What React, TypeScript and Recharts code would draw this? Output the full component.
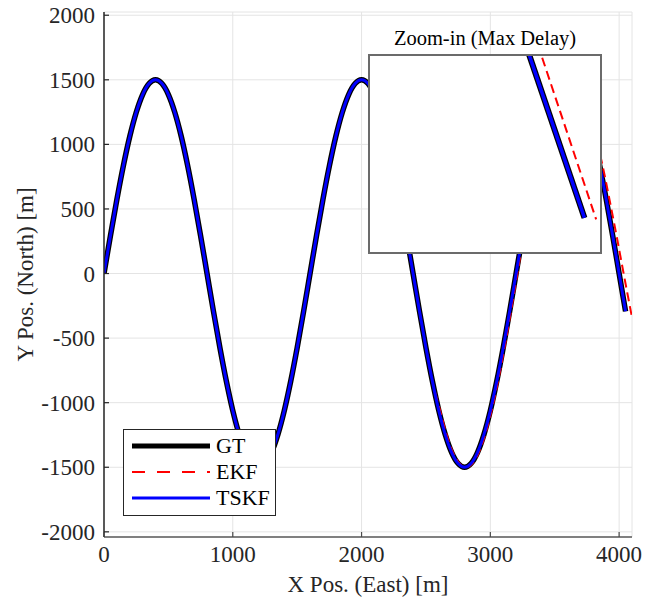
import { LineChart, Line, XAxis, YAxis, CartesianGrid } from 'recharts';

const FONT = "'Liberation Serif', 'Times New Roman', Times, serif";

// trajectory, east/north in metres
const gtX = [
  0, 50, 100, 150, 200, 250, 300, 350, 400, 450, 500, 550, 600, 650, 700, 750,
  800, 850, 900, 950, 1000, 1050, 1100, 1150, 1200, 1250, 1300, 1350, 1400, 1450, 1500, 1550,
  1600, 1650, 1700, 1750, 1800, 1850, 1900, 1950, 2000, 2050, 2100, 2150, 2200, 2250, 2300, 2350,
  2400, 2450, 2500, 2550, 2600, 2650, 2700, 2750, 2800, 2850, 2900, 2950, 3000, 3050, 3100, 3150,
  3200, 3250, 3300, 3350, 3400, 3450, 3500, 3550, 3600, 3650, 3700, 3750, 3800, 3850, 3900, 3950,
  4000, 4050,
];
const gtY = [
  0, 293, 574, 833, 1061, 1247, 1386, 1471, 1500, 1471, 1386, 1247, 1061, 833, 574, 293,
  0, -293, -574, -833, -1061, -1247, -1386, -1471, -1500, -1471, -1386, -1247, -1061, -833, -574, -293,
  0, 293, 574, 833, 1061, 1247, 1386, 1471, 1500, 1471, 1386, 1247, 1061, 833, 574, 293,
  0, -293, -574, -833, -1061, -1247, -1386, -1471, -1500, -1471, -1386, -1247, -1061, -833, -574, -293,
  0, 293, 574, 833, 1061, 1247, 1386, 1471, 1500, 1471, 1386, 1247, 1061, 833, 574, 293,
  0, -293,
];
const tskfY = [
  0, 293, 574, 833, 1061, 1247, 1386, 1471, 1500, 1471, 1386, 1247, 1061, 833, 574, 293,
  0, -293, -574, -833, -1061, -1247, -1386, -1471, -1500, -1471, -1386, -1247, -1061, -833, -574, -293,
  0, 293, 574, 833, 1061, 1247, 1386, 1471, 1500, 1471, 1386, 1247, 1061, 833, 574, 293,
  0, -293, -574, -833, -1061, -1247, -1386, -1471, -1500, -1471, -1386, -1247, -1061, -833, -574, -293,
  0, 293, 574, 833, 1061, 1247, 1386, 1471, 1500, 1471, 1386, 1247, 1061, 833, 574, 293,
  0, -293,
];
const ekfX = [
  0, 50, 100, 150, 200, 250, 300, 350, 400, 450, 500, 550, 600, 650, 700, 750,
  800, 850, 900, 950, 1000, 1050, 1100, 1150, 1200, 1250, 1300, 1350, 1400, 1450, 1500, 1550,
  1600, 1650, 1700, 1750, 1800, 1850, 1900, 1950, 2000, 2050, 2100, 2150, 2200, 2250, 2300, 2350,
  2400, 2450, 2500, 2550, 2610, 2660, 2710, 2760, 2810, 2860, 2910, 2960, 3010, 3060, 3110, 3160,
  3210, 3260, 3310, 3360, 3410, 3460, 3510, 3560, 3610, 3660, 3712, 3765, 3818, 3872, 3925, 3980,
  4035, 4100,
];
const ekfY = [
  0, 293, 574, 833, 1061, 1247, 1386, 1471, 1500, 1471, 1386, 1247, 1061, 833, 574, 293,
  0, -293, -574, -833, -1061, -1247, -1386, -1471, -1500, -1471, -1386, -1247, -1061, -833, -574, -293,
  0, 293, 574, 833, 1061, 1247, 1386, 1471, 1500, 1471, 1386, 1247, 1061, 833, 574, 293,
  0, -293, -574, -833, -1061, -1247, -1386, -1471, -1500, -1471, -1386, -1247, -1061, -833, -574, -293,
  0, 293, 574, 833, 1061, 1247, 1386, 1471, 1500, 1471, 1386, 1247, 1061, 833, 574, 293,
  0, -340,
];

const xTicks = [0, 1000, 2000, 3000, 4000];
const yTicks = [-2000, -1500, -1000, -500, 0, 500, 1000, 1500, 2000];

// zoom-in window at the end of the run
const insetGtX = [4026, 4049];
const insetGtY = [-178, -310];
const insetEkfX = [4030, 4053];
const insetEkfY = [-177, -311];

const zip = (xs: number[], ys: number[]) => xs.map((x, i) => ({ x, y: ys[i] }));

const gtData = zip(gtX, gtY);
const tskfData = zip(gtX, tskfY);
const ekfData = zip(ekfX, ekfY);
const insetGt = zip(insetGtX, insetGtY);
const insetEkf = zip(insetEkfX, insetEkfY);

const textStyle = { fontFamily: FONT, fill: '#262626' };

// matlab-ish: labels outside, short tick marks pointing inward
function XTick(props: any) {
  const { x, y, payload } = props;
  return (
    <g>
      <line x1={x} y1={y} x2={x} y2={y - 5} stroke="#4a4a4a" strokeWidth={1.2} />
      <text x={x} y={y + 25} textAnchor="middle" fontSize={23} style={textStyle}>
        {payload.value}
      </text>
    </g>
  );
}

function YTick(props: any) {
  const { x, y, payload } = props;
  return (
    <g>
      <line x1={x} y1={y} x2={x + 5} y2={y} stroke="#262626" strokeWidth={1.2} />
      <text x={x - 9} y={y + 8} textAnchor="end" fontSize={23} style={textStyle}>
        {payload.value}
      </text>
    </g>
  );
}

function YTitle(props: any) {
  const { viewBox } = props;
  const cy = viewBox.y + viewBox.height / 2;
  return (
    <text
      x={25}
      y={cy}
      transform={`rotate(-90, 25, ${cy})`}
      textAnchor="middle"
      dominantBaseline="central"
      fontSize={23}
      style={textStyle}
    >
      Y Pos. (North) [m]
    </text>
  );
}

function XTitle(props: any) {
  const { viewBox } = props;
  return (
    <text x={viewBox.x + viewBox.width / 2} y={592} textAnchor="middle" fontSize={23} style={textStyle}>
      X Pos. (East) [m]
    </text>
  );
}

function LegendBox() {
  const rows = [
    { name: 'GT', color: '#000', width: 5, dash: undefined },
    { name: 'EKF', color: '#ff0000', width: 2, dash: '13 12' },
    { name: 'TSKF', color: '#0000ff', width: 3, dash: undefined },
  ];
  return (
    <div
      style={{
        position: 'absolute',
        left: 123,
        top: 429,
        width: 153,
        height: 87,
        boxSizing: 'border-box',
        border: '1px solid #262626',
        background: '#fff',
      }}
    >
      {rows.map((r, i) => (
        <div key={r.name} style={{ position: 'absolute', left: 7, top: 3 + i * 26, height: 26, display: 'flex', alignItems: 'center' }}>
          <svg width={80} height={10}>
            <line x1={1} y1={5} x2={79} y2={5} stroke={r.color} strokeWidth={r.width} strokeDasharray={r.dash} />
          </svg>
          <span style={{ marginLeft: 5, fontFamily: FONT, fontSize: 22, color: '#000', lineHeight: '26px' }}>{r.name}</span>
        </div>
      ))}
    </div>
  );
}

function Inset() {
  return (
    <>
      <div
        style={{
          position: 'absolute',
          left: 366,
          top: 27,
          width: 238,
          textAlign: 'center',
          fontFamily: FONT,
          fontSize: 20.5,
          color: '#000',
          whiteSpace: 'nowrap',
        }}
      >
        Zoom-in (Max Delay)
      </div>
      <div style={{ position: 'absolute', left: 368, top: 54, width: 234, height: 200, background: '#fff' }}>
        <LineChart width={234} height={200} margin={{ top: 0, right: 0, bottom: 0, left: 0 }}>
          <XAxis type="number" dataKey="x" domain={[3975, 4055]} allowDataOverflow hide />
          <YAxis type="number" domain={[-334, -201]} allowDataOverflow hide />
          <Line data={insetGt} dataKey="y" stroke="#000" strokeWidth={6} dot={false} isAnimationActive={false} />
          <Line data={insetEkf} dataKey="y" stroke="#ff0000" strokeWidth={2} strokeDasharray="9 5" dot={false} isAnimationActive={false} />
          <Line data={insetGt} dataKey="y" stroke="#0000ff" strokeWidth={3.5} dot={false} isAnimationActive={false} />
        </LineChart>
        <div
          style={{
            position: 'absolute',
            inset: 0,
            boxSizing: 'border-box',
            border: '2px solid #6b6b6b',
            pointerEvents: 'none',
          }}
        />
      </div>
    </>
  );
}

export default function App() {
  return (
    <div style={{ position: 'absolute', left: 0, top: 0, width: 657, height: 601, background: '#fff', fontFamily: FONT }}>
      <LineChart width={657} height={601} margin={{ top: 12, right: 25, bottom: 0, left: 0 }} style={{ fontFamily: FONT }}>
        <CartesianGrid stroke="#e4e4e4" strokeWidth={1} />
        <XAxis
          type="number"
          dataKey="x"
          domain={[0, 4100]}
          ticks={xTicks}
          allowDataOverflow
          height={64}
          tick={<XTick />}
          tickLine={false}
          tickSize={0}
          tickMargin={0}
          axisLine={{ stroke: '#5a5a5a', strokeWidth: 1.5 }}
          label={<XTitle />}
        />
        <YAxis
          type="number"
          domain={[-2040, 2025]}
          ticks={yTicks}
          allowDataOverflow
          width={104}
          tick={<YTick />}
          tickLine={false}
          tickSize={0}
          tickMargin={0}
          axisLine={{ stroke: '#262626', strokeWidth: 1.5 }}
          label={<YTitle />}
        />
        <Line data={gtData} dataKey="y" type="monotone" stroke="#000" strokeWidth={5.5} dot={false} isAnimationActive={false} />
        <Line data={ekfData} dataKey="y" type="monotone" stroke="#ff0000" strokeWidth={2} strokeDasharray="9 5" dot={false} isAnimationActive={false} />
        <Line data={tskfData} dataKey="y" type="monotone" stroke="#0000ff" strokeWidth={3} dot={false} isAnimationActive={false} />
      </LineChart>
      <Inset />
      <LegendBox />
    </div>
  );
}
